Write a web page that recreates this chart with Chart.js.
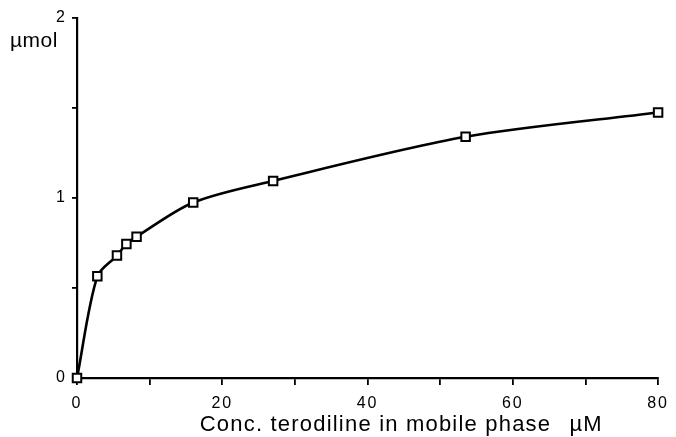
<!DOCTYPE html>
<html>
<head>
<meta charset="utf-8">
<script src="https://cdn.jsdelivr.net/npm/chart.js@4.4.1/dist/chart.umd.min.js"></script>
<style>
  html, body { margin: 0; padding: 0; background: #fff; }
  #wrap { width: 676px; height: 437px; }
</style>
</head>
<body>
<div id="wrap"><canvas id="chart" width="676" height="437"></canvas></div>
<script>
// concentration of terodiline in mobile phase (uM)
const concUM = [0, 2.8, 5.5, 6.8, 8.2, 16, 27, 53.5, 80];
// amount adsorbed (umol)
const amountUmol = [0, 0.565, 0.68, 0.745, 0.785, 0.975, 1.095, 1.34, 1.475];

const xTicks = [0, 20, 40, 60, 80];
const yTicks = [0, 1, 2];
const xTitle = "Conc. terodiline in mobile phase";
const xUnit = "\u00b5M";
const yTitle = "\u00b5mol";

const FONT = "Liberation Sans, Arial, Helvetica, sans-serif";

// the scanned figure has loosely spaced tick digits
const spacingPlugin = {
  id: "spacing",
  beforeDraw(chart) {
    chart.ctx.letterSpacing = "2px";
  },
};

// axis labels drawn next to the axes (not rotated, like the original figure)
const axisTextPlugin = {
  id: "axisText",
  afterDraw(chart) {
    const ctx = chart.ctx;
    const x = chart.scales.x;
    ctx.save();
    ctx.fillStyle = "#000";
    ctx.textBaseline = "alphabetic";
    ctx.textAlign = "left";

    ctx.font = "21px " + FONT;
    ctx.letterSpacing = "0.5px";
    ctx.fillText(yTitle, 10, 47);

    ctx.font = "22px " + FONT;
    ctx.letterSpacing = "1.2px";
    ctx.fillText(xTitle, x.getPixelForValue(16.9), x.bottom - 6);
    ctx.fillText(xUnit, x.getPixelForValue(67.8), x.bottom - 6);
    ctx.restore();
  },
};

document.addEventListener("DOMContentLoaded", function () {
  const el = document.getElementById("chart");

  new Chart(el, {
    type: "line",
    data: {
      datasets: [
        {
          data: concUM.map((c, i) => ({ x: c, y: amountUmol[i] })),
          borderColor: "#000",
          borderWidth: 2.6,
          backgroundColor: "#fff",
          pointStyle: "rect",
          pointRadius: 6,
          pointBorderWidth: 2,
          pointBorderColor: "#000",
          pointBackgroundColor: "#fff",
          tension: 0.3,
          clip: false,
        },
      ],
    },
    options: {
      responsive: false,
      animation: false,
      layout: { padding: { top: 18, right: 14, left: 0, bottom: 0 } },
      plugins: {
        legend: { display: false },
        tooltip: { enabled: false },
      },
      scales: {
        x: {
          type: "linear",
          min: 0,
          max: 80,
          afterFit: (s) => { s.height = 59; },
          border: { display: true, color: "#000", width: 2.2 },
          grid: {
            display: true,
            drawOnChartArea: false,
            drawTicks: true,
            tickLength: 7,
            color: "#000",
            lineWidth: 1.8,
          },
          ticks: {
            stepSize: 10,
            color: "#000",
            font: { family: FONT, size: 16 },
            padding: 9,
            maxRotation: 0,
            callback: (v) => (xTicks.includes(v) ? String(v) : ""),
          },
        },
        y: {
          type: "linear",
          min: 0,
          max: 2,
          afterFit: (s) => { s.width = 77; },
          border: { display: true, color: "#000", width: 2.2 },
          grid: {
            display: true,
            drawOnChartArea: false,
            drawTicks: true,
            tickLength: 5,
            color: "#000",
            lineWidth: 1.8,
          },
          ticks: {
            stepSize: 0.5,
            color: "#000",
            font: { family: FONT, size: 16 },
            padding: 5,
            callback: (v) => (yTicks.includes(v) ? String(v) : ""),
          },
        },
      },
    },
    plugins: [spacingPlugin, axisTextPlugin],
  });
});
</script>
</body>
</html>
